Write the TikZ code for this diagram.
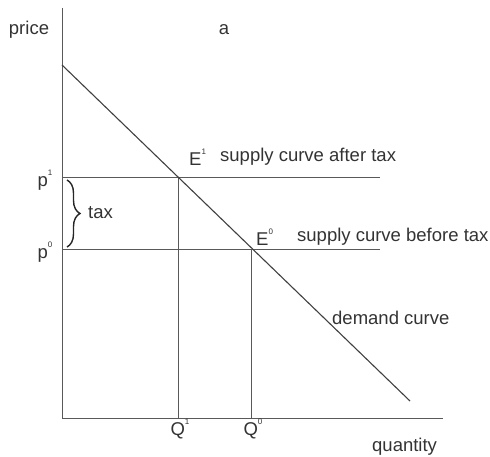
\documentclass[tikz,border=0pt]{standalone}
\usepackage{fontspec}
\setmainfont{Liberation Sans}
\usetikzlibrary{decorations.pathreplacing}
\newcommand{\mysup}[1]{\raisebox{0.62em}{\fontsize{8}{8}\selectfont #1}}
\begin{document}
\begin{tikzpicture}[x=1pt,y=-1pt,
  lbl/.style={inner sep=0pt,font=\fontsize{18.5}{20}\selectfont,text=black!80},
  axis/.style={draw=black!65,line width=0.9pt},
  guide/.style={draw=black!65,line width=0.8pt},
  demand/.style={draw=black!75,line width=1.1pt}]
\useasboundingbox (0,0) rectangle (490,457);
% coordinates
\coordinate (O) at (62,418);
\coordinate (Ytop) at (62,8);
\coordinate (Xend) at (443,418);
\coordinate (D1) at (62,65);
\coordinate (D2) at (410,401);
\coordinate (P1) at (62,177);
\coordinate (P0) at (62,249);
\coordinate (E1) at (178,177);
\coordinate (E0) at (251,249);
\coordinate (S1) at (380,177);
\coordinate (S0) at (380,249);
\coordinate (Q1) at (178,418);
\coordinate (Q0) at (251,418);
\coordinate (B1) at (67,180);
\coordinate (B0) at (67,247);
% axes
\draw[axis] (Ytop) -- (O) -- (Xend);
% supply lines
\draw[guide] (P1) -- (S1);
\draw[guide] (P0) -- (S0);
% drop lines
\draw[guide] (E1) -- (Q1);
\draw[guide] (E0) -- (Q0);
% demand
\draw[demand] (D1) -- (D2);
% brace
\draw[draw=black!85,line width=1.4pt,decorate,decoration={brace,amplitude=13pt}] (B1) -- (B0);
% labels
\node[lbl] (price) at (29,30) {price};
\node[lbl] (a) at (224,30) {a};
\node[lbl,anchor=west] (e1) at (189,157) {E\mysup{1}};
\node[lbl,anchor=west] (sat) at (220,157) {supply curve after tax};
\node[lbl,anchor=west] (e0) at (256,237) {E\mysup{0}};
\node[lbl,anchor=west] (sbt) at (297,237) {supply curve before tax};
\node[lbl] (p1) at (45,180) {p\mysup{1}};
\node[lbl] (p0) at (45,252) {p\mysup{0}};
\node[lbl,anchor=west] (tax) at (88,213) {tax};
\node[lbl] (q1) at (180,429) {Q\mysup{1}};
\node[lbl] (q0) at (253,429) {Q\mysup{0}};
\node[lbl,anchor=west] (qty) at (372,447) {quantity};
\node[lbl,anchor=west] (dc) at (332,318) {demand curve};
\end{tikzpicture}
\end{document}
